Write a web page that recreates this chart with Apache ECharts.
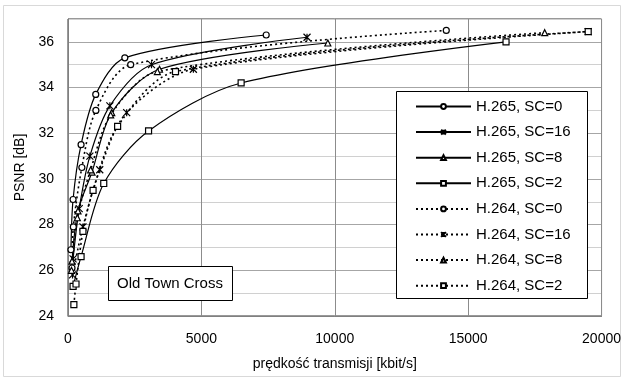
<!DOCTYPE html>
<html>
<head>
<meta charset="utf-8">
<script src="https://cdn.jsdelivr.net/npm/echarts@6/dist/echarts.min.js"></script>
<style>
  html, body { margin: 0; padding: 0; background: #fff; }
  #chart { width: 624px; height: 380px; }
</style>
</head>
<body>
<div id="chart"></div>
<script>
// rate [kbit/s] and PSNR [dB]
var h265sc0Rate = [110, 190, 490, 1040, 2130, 7430];
var h265sc0Psnr = [26.9, 29.1, 31.5, 33.7, 35.3, 36.3];
var h265sc16Rate = [190, 420, 820, 1570, 3130, 8960];
var h265sc16Psnr = [26.5, 28.7, 31.0, 33.2, 35.0, 36.2];
var h265sc8Rate = [150, 375, 900, 1640, 3430, 9740];
var h265sc8Psnr = [26.4, 28.6, 30.3, 32.9, 34.8, 35.95];
var h265sc2Rate = [190, 490, 1340, 3020, 6490, 16420];
var h265sc2Psnr = [25.3, 26.6, 29.8, 32.1, 34.2, 36.0];
var h264sc0Rate = [150, 200, 520, 1045, 2350, 14180];
var h264sc0Psnr = [26.1, 27.9, 30.5, 33.0, 35.0, 36.5];
var h264sc16Rate = [170, 560, 1190, 2200, 4700, 19500];
var h264sc16Psnr = [25.8, 27.9, 30.4, 32.9, 34.8, 36.45];
var h264sc8Rate = [130, 350, 850, 1600, 3350, 17870];
var h264sc8Psnr = [26.0, 28.3, 30.4, 32.8, 34.7, 36.4];
var h264sc2Rate = [220, 300, 560, 940, 1860, 4030, 19500];
var h264sc2Psnr = [24.5, 25.4, 27.7, 29.5, 32.3, 34.7, 36.45];

var FONT = 'Liberation Sans';
var STAR = 'path://M0,0L10,10M10,0L0,10M5,0L5,10';

function zip(xs, ys) {
  var out = [];
  for (var i = 0; i < xs.length; i++) out.push([xs[i], ys[i]]);
  return out;
}

function makeSeries(name, rate, psnr, symbol, dotted) {
  return {
    name: name,
    type: 'line',
    data: zip(rate, psnr),
    smooth: 0.3,
    symbol: symbol,
    symbolSize: symbol === STAR ? 7 : 6,
    showAllSymbol: true,
    lineStyle: { color: '#000', width: dotted ? 1.6 : 1.2, type: dotted ? [2, 3] : 'solid' },
    itemStyle: { color: '#fff', borderColor: '#000', borderWidth: 1.2 },
    emphasis: { disabled: true },
    animation: false
  };
}

var series = [
  makeSeries('H.265, SC=0', h265sc0Rate, h265sc0Psnr, 'circle', false),
  makeSeries('H.265, SC=16', h265sc16Rate, h265sc16Psnr, STAR, false),
  makeSeries('H.265, SC=8', h265sc8Rate, h265sc8Psnr, 'triangle', false),
  makeSeries('H.265, SC=2', h265sc2Rate, h265sc2Psnr, 'rect', false),
  makeSeries('H.264, SC=0', h264sc0Rate, h264sc0Psnr, 'circle', true),
  makeSeries('H.264, SC=16', h264sc16Rate, h264sc16Psnr, STAR, true),
  makeSeries('H.264, SC=8', h264sc8Rate, h264sc8Psnr, 'triangle', true),
  makeSeries('H.264, SC=2', h264sc2Rate, h264sc2Psnr, 'rect', true)
];

var chart = echarts.init(document.getElementById('chart'));
chart.setOption({
  animation: false,
  backgroundColor: '#fff',
  textStyle: { fontFamily: FONT },
  grid: {
    left: 68, top: 19, width: 536, height: 297,
    show: true, borderColor: '#333', borderWidth: 1, backgroundColor: 'transparent'
  },
  xAxis: {
    type: 'value', min: 0, max: 20000, interval: 5000,
    name: 'prędkość transmisji [kbit/s]', nameLocation: 'middle', nameGap: 41,
    nameTextStyle: { fontFamily: FONT, fontSize: 14, color: '#000' },
    axisLine: { lineStyle: { color: '#808080' } },
    axisTick: { show: false },
    axisLabel: {
      fontFamily: FONT, fontSize: 14, color: '#000', margin: 16,
      formatter: function (v) { return String(v); }
    },
    splitLine: { lineStyle: { color: '#8c8c8c' } }
  },
  yAxis: {
    type: 'value', min: 24, max: 37, interval: 1,
    name: 'PSNR [dB]', nameLocation: 'middle', nameGap: 40,
    nameTextStyle: { fontFamily: FONT, fontSize: 14, color: '#000' },
    axisLine: { show: true, lineStyle: { color: '#808080' } },
    axisTick: { show: false },
    axisLabel: {
      fontFamily: FONT, fontSize: 14, color: '#000', margin: 14,
      formatter: function (v) { return v % 2 === 0 ? String(v) : ''; }
    },
    splitLine: { lineStyle: { color: ['#a6a6a6', '#d0d0d0'] } }
  },
  legend: {
    orient: 'vertical', left: 396, top: 93,
    padding: [6, 0, 0, 19],
    itemWidth: 55, itemHeight: 6, itemGap: 10.6,
    textStyle: { fontFamily: FONT, fontSize: 15, color: '#000', padding: [0, 0, 0, 0] },
    z: 6,
    data: series.map(function (s) { return s.name; })
  },
  graphic: [
    {
      type: 'rect', z: 0, silent: true,
      shape: { x: 3.5, y: 5.5, width: 617, height: 371 },
      style: { fill: 'none', stroke: '#d9d9d9', lineWidth: 1 }
    },
    {
      type: 'rect', z: 5, silent: true,
      shape: { x: 396.5, y: 91.5, width: 191, height: 207 },
      style: { fill: '#fff', stroke: '#000', lineWidth: 1 }
    },
    {
      type: 'rect', z: 5, silent: true,
      shape: { x: 108.5, y: 266.5, width: 124, height: 34 },
      style: { fill: '#fff', stroke: '#000', lineWidth: 1 }
    },
    {
      type: 'text', z: 6, silent: true,
      x: 170, y: 283.5,
      style: {
        text: 'Old Town Cross', fontFamily: FONT, fontSize: 15, fill: '#000',
        textAlign: 'center', textVerticalAlign: 'middle'
      }
    }
  ],
  series: series
});
</script>
</body>
</html>
